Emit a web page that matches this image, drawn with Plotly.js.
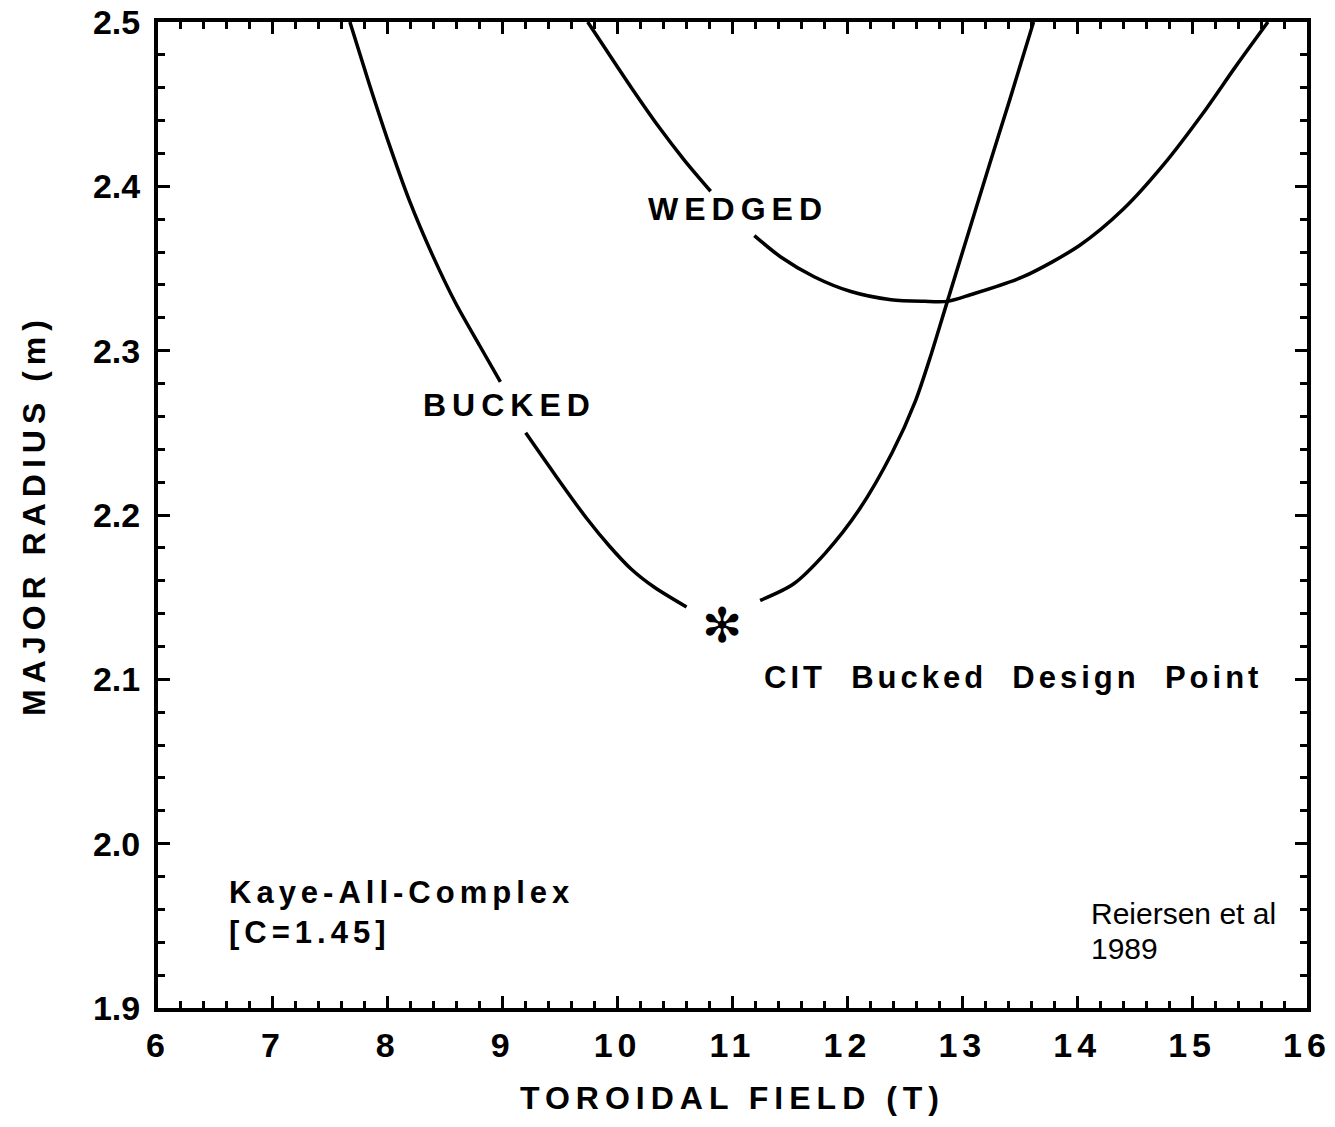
<!DOCTYPE html>
<html>
<head>
<meta charset="utf-8">
<script src="https://cdn.plot.ly/plotly-3.0.1.min.js"></script>
<style>
  html, body { margin: 0; padding: 0; background: #ffffff; }
  #chart { width: 1335px; height: 1127px; }
</style>
</head>
<body>
<div id="chart"></div>
<script>
// ---- data (Toroidal field T vs Major radius m) ----
var buckedField  = [7.67, 7.84, 8.01, 8.19, 8.39, 8.59, 8.80, 8.98, null, 9.20, 9.44, 9.73, 9.93, 10.12, 10.32, 10.60, null, 11.24, 11.53, 11.81, 12.10, 12.39, 12.59, 12.73, 12.87, 13.24, 13.41, 13.62];
var buckedRadius = [2.500, 2.462, 2.426, 2.391, 2.358, 2.329, 2.303, 2.281, null, 2.250, 2.226, 2.198, 2.181, 2.167, 2.156, 2.144, null, 2.148, 2.158, 2.177, 2.203, 2.238, 2.269, 2.298, 2.330, 2.414, 2.452, 2.500];

var wedgedField  = [9.74, 9.91, 10.12, 10.35, 10.58, 10.81, null, 11.19, 11.42, 11.71, 12.03, 12.38, 12.67, 12.87, 13.07, 13.53, 14.02, 14.40, 14.75, 15.09, 15.38, 15.66];
var wedgedRadius = [2.500, 2.482, 2.460, 2.437, 2.416, 2.397, null, 2.370, 2.357, 2.345, 2.336, 2.331, 2.330, 2.330, 2.334, 2.345, 2.364, 2.386, 2.413, 2.444, 2.473, 2.500];

var designField  = [10.91];
var designRadius = [2.130];
var designMark   = ['\u273B'];

var xTickVals = [6, 7, 8, 9, 10, 11, 12, 13, 14, 15, 16];
var yTickVals = [1.9, 2.0, 2.1, 2.2, 2.3, 2.4, 2.5];

var xTitle = 'TOROIDAL FIELD (T)';
var yTitle = 'MAJOR RADIUS (m)';

var labelTexts  = ['BUCKED', 'WEDGED', 'CIT  Bucked  Design  Point', 'Kaye-All-Complex<br>[C=1.45]', 'Reiersen et al', '1989'];
var labelField  = [9.06, 11.05, 13.44, 6.61, 14.11, 14.11];
var labelRadius = [2.267, 2.386, 2.101, 1.958, 1.9467, 1.9467];

// ---- chart ----
var boldFont = 'Liberation Sans, Arial, Helvetica, sans-serif';

var traces = [
  { x: buckedField, y: buckedRadius, mode: 'lines', type: 'scatter',
    line: { color: '#000', width: 3.5, shape: 'spline', smoothing: 0.8 }, connectgaps: false, hoverinfo: 'skip' },
  { x: wedgedField, y: wedgedRadius, mode: 'lines', type: 'scatter',
    line: { color: '#000', width: 3.5, shape: 'spline', smoothing: 0.8 }, connectgaps: false, hoverinfo: 'skip' },
  { x: designField, y: designRadius, mode: 'text', type: 'scatter', text: designMark,
    textposition: 'middle center',
    textfont: { family: 'DejaVu Sans', size: 48, color: '#000' }, hoverinfo: 'skip' }
];

var annStyles = [
  { size: 32, weight: 'bold', xanchor: 'center', align: 'center', yanchor: 'middle' },
  { size: 32, weight: 'bold', xanchor: 'center', align: 'center', yanchor: 'middle' },
  { size: 31, weight: 'bold', xanchor: 'center', align: 'center', yanchor: 'middle' },
  { size: 31, weight: 'bold', xanchor: 'left', align: 'left', yanchor: 'middle' },
  { size: 30, weight: 'normal', xanchor: 'left', align: 'left', yanchor: 'bottom' },
  { size: 30, weight: 'normal', xanchor: 'left', align: 'left', yanchor: 'top' }
];
var annotations = labelTexts.map(function (t, i) {
  return {
    text: t, x: labelField[i], y: labelRadius[i], xref: 'x', yref: 'y',
    showarrow: false, xanchor: annStyles[i].xanchor, yanchor: annStyles[i].yanchor, align: annStyles[i].align,
    borderpad: 0,
    font: { family: boldFont, size: annStyles[i].size, color: '#000', weight: annStyles[i].weight }
  };
});

var axisCommon = {
  showgrid: false, zeroline: false, showline: true, linecolor: '#000', linewidth: 4,
  mirror: 'allticks', ticks: 'inside', ticklen: 12, tickwidth: 3, tickcolor: '#000',
  tickfont: { family: boldFont, size: 34, color: '#000', weight: 'bold' }
};

var layout = {
  width: 1335, height: 1127,
  margin: { l: 158, r: 28, t: 22, b: 119 },
  paper_bgcolor: '#fff', plot_bgcolor: '#fff',
  showlegend: false, hovermode: false,
  xaxis: Object.assign({}, axisCommon, {
    range: [6, 16], tickmode: 'array', tickvals: xTickVals, ticktext: xTickVals.map(String),
    ticklabelstandoff: 4,
    minor: { ticks: 'inside', ticklen: 7, tickwidth: 3, tickcolor: '#000', dtick: 0.2, showgrid: false },
    title: { text: xTitle, standoff: 25, font: { family: boldFont, size: 32, color: '#000', weight: 'bold' } }
  }),
  yaxis: Object.assign({}, axisCommon, {
    range: [1.9, 2.5], tickmode: 'array', tickvals: yTickVals, ticktext: yTickVals.map(function (v) { return v.toFixed(1); }),
    ticklabelstandoff: 7,
    minor: { ticks: 'inside', ticklen: 7, tickwidth: 3, tickcolor: '#000', dtick: 0.02, showgrid: false },
    title: { text: yTitle, standoff: 39, font: { family: boldFont, size: 32, color: '#000', weight: 'bold' } }
  }),
  annotations: annotations
};

var spacing = ['6px', '6px', '4px', '5px', '0px', '0px'];

Plotly.newPlot('chart', traces, layout, { displayModeBar: false, staticPlot: true }).then(function (gd) {
  var xt = gd.querySelector('.xtitle'); if (xt) xt.style.letterSpacing = '6px';
  var yt = gd.querySelector('.ytitle'); if (yt) yt.style.letterSpacing = '6px';
  gd.querySelectorAll('.xtick text').forEach(function (el) { el.style.letterSpacing = '5px'; });
  gd.querySelectorAll('.annotation-text').forEach(function (el, i) {
    if (spacing[i]) el.style.letterSpacing = spacing[i];
  });
});
</script>
</body>
</html>
